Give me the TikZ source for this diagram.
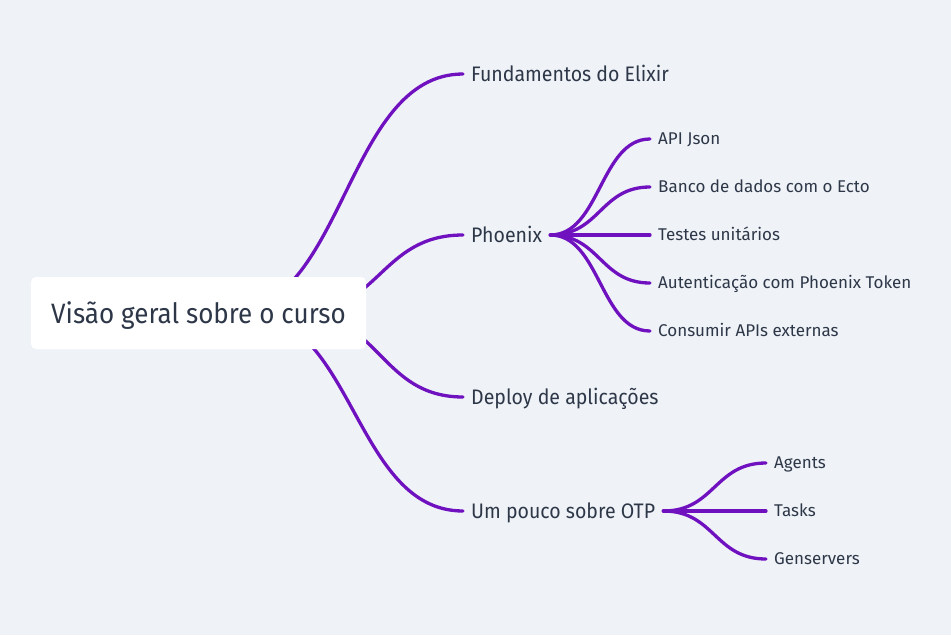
\documentclass[tikz,border=0pt]{standalone}
\usepackage{fontspec}
\setmainfont[FakeStretch=0.93]{Fira Sans}
\newfontfamily\subfont{Fira Sans}
\usetikzlibrary{calc,positioning}

\definecolor{bgcolor}{RGB}{239,243,247}
\definecolor{branchcolor}{RGB}{112,17,192}
\definecolor{textcolor}{RGB}{45,55,72}

\pgfdeclarelayer{bg}
\pgfdeclarelayer{edges}
\pgfsetlayers{bg,edges,main}

\begin{document}
\begin{tikzpicture}
  [x=1pt,y=-1pt,
   % Styles
   root/.style={fill=white,rounded corners=5pt,text=textcolor,
     minimum width=335pt,minimum height=72pt,
     text height=20pt,text depth=0pt,
     font=\fontsize{28}{32}\selectfont},
   topic/.style={anchor=west,text=textcolor,inner xsep=8pt,inner ysep=0pt,
     text height=14.5pt,text depth=0pt,font=\fontsize{21}{24}\selectfont},
   subtopic/.style={anchor=west,text=textcolor,inner xsep=8pt,inner ysep=0pt,
     text height=11.5pt,text depth=0pt,font=\subfont\fontsize{17}{20}\selectfont},
   branch/.style={draw=branchcolor,line width=3.3pt,line cap=round},
   link/.style={to path={let \p1=(\tikztostart),\p2=(\tikztotarget) in
     .. controls ({(\x1+\x2)/2},\y1) and ({(\x1+\x2)/2},\y2) .. (\tikztotarget)}}]

  \useasboundingbox (0,0) rectangle (951,635);
  \begin{pgfonlayer}{bg}
    \fill[bgcolor] (0,0) rectangle (951,635);
  \end{pgfonlayer}

  % Centre
  \node[root] (root) at (198.5,313) {Visão geral sobre o curso};

  % Main topics
  \node[topic] (fund)   at (463,74)  {Fundamentos do Elixir};
  \node[topic] (phx)    at (463,235) {Phoenix};
  \node[topic] (deploy) at (463,397) {Deploy de aplicações};
  \node[topic] (otp)    at (463,511) {Um pouco sobre OTP};

  % Subtopics
  \foreach \c/\y/\t in {api/139/API Json, banco/187/Banco de dados com o Ecto,
      testes/235/Testes unitários, auth/283/Autenticação com Phoenix Token,
      apis/331/Consumir APIs externas}
    \node[subtopic] (\c) at (650,\y) {\t};

  \foreach \c/\y/\t in {agents/463/Agents, tasks/511/Tasks, gens/559/Genservers}
    \node[subtopic] (\c) at (766,\y) {\t};

  % Branches
  \begin{pgfonlayer}{edges}
    \draw[branch] ([xshift=28.5pt]root.center) to[link] (fund.west);
    \draw[branch] ([xshift=98.5pt]root.center) to[link] (phx.west);
    \draw[branch] ([xshift=98.5pt]root.center) to[link] (deploy.west);
    \draw[branch] ([xshift=46.5pt]root.center) to[link] (otp.west);

    \foreach \c in {api,banco,testes,auth,apis}
      \draw[branch] (phx.east) to[link] (\c.west);
    \foreach \c in {agents,tasks,gens}
      \draw[branch] (otp.east) to[link] (\c.west);
  \end{pgfonlayer}
\end{tikzpicture}
\end{document}
